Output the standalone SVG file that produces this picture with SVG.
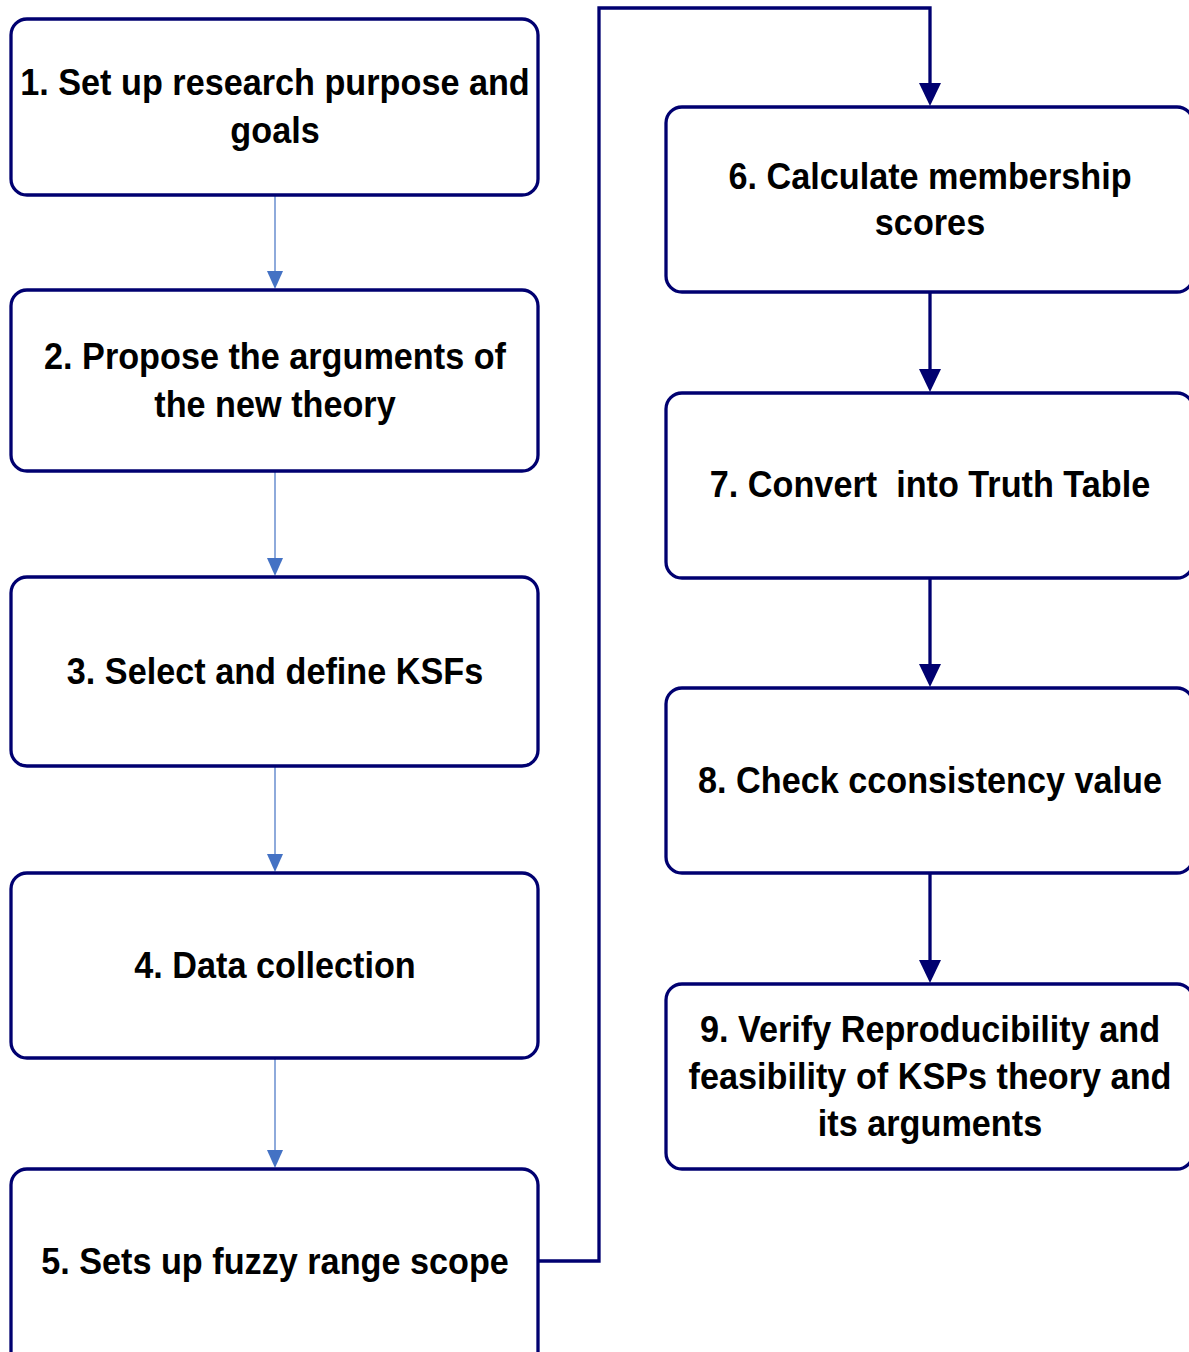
<svg xmlns="http://www.w3.org/2000/svg" width="1189" height="1352" viewBox="0 0 1189 1352">
<style>
.box{fill:#fff;stroke:#000070;stroke-width:3.3}
.t{font-family:"Liberation Sans",Arial,sans-serif;font-weight:bold;font-size:37px;fill:#000;text-anchor:middle}
.lc{fill:none;stroke:#8eaadb;stroke-width:2}
.dc{fill:none;stroke:#000070;stroke-width:3.3}
</style>
<rect width="1189" height="1352" fill="#fff"/>
<g id="connectors">
<path class="lc" d="M275,195 V271"/><path d="M267,271 H283 L275,289 Z" fill="#4472c4"/>
<path class="lc" d="M275,471 V558"/><path d="M267,558 H283 L275,576 Z" fill="#4472c4"/>
<path class="lc" d="M275,766 V854"/><path d="M267,854 H283 L275,872 Z" fill="#4472c4"/>
<path class="lc" d="M275,1058 V1150"/><path d="M267,1150 H283 L275,1168 Z" fill="#4472c4"/>
<path class="dc" d="M538,1261 H599 V8 H930 V84"/><path d="M919,83 H941 L930,106 Z" fill="#000070"/>
<path class="dc" d="M930,292 V370"/><path d="M919,369 H941 L930,392 Z" fill="#000070"/>
<path class="dc" d="M930,578 V665"/><path d="M919,664 H941 L930,687 Z" fill="#000070"/>
<path class="dc" d="M930,873 V961"/><path d="M919,960 H941 L930,983 Z" fill="#000070"/>
</g>
<g id="n1"><rect class="box" x="11" y="19" width="527" height="176" rx="16"/><g transform="translate(275 0) scale(0.925 1)"><text class="t" x="0" y="95">1. Set up research purpose and</text><text class="t" x="0" y="143">goals</text></g></g>
<g id="n2"><rect class="box" x="11" y="290" width="527" height="181" rx="16"/><g transform="translate(275 0) scale(0.925 1)"><text class="t" x="0" y="369">2. Propose the arguments of</text><text class="t" x="0" y="417">the new theory</text></g></g>
<g id="n3"><rect class="box" x="11" y="577" width="527" height="189" rx="16"/><g transform="translate(275 0) scale(0.925 1)"><text class="t" x="0" y="684">3. Select and define KSFs</text></g></g>
<g id="n4"><rect class="box" x="11" y="873" width="527" height="185" rx="16"/><g transform="translate(275 0) scale(0.925 1)"><text class="t" x="0" y="978">4. Data collection</text></g></g>
<g id="n5"><rect class="box" x="11" y="1169" width="527" height="200" rx="16"/><g transform="translate(275 0) scale(0.925 1)"><text class="t" x="0" y="1274">5. Sets up fuzzy range scope</text></g></g>
<g id="n6"><rect class="box" x="666" y="107" width="527" height="185" rx="16"/><g transform="translate(930 0) scale(0.925 1)"><text class="t" x="0" y="189">6. Calculate membership</text><text class="t" x="0" y="235">scores</text></g></g>
<g id="n7"><rect class="box" x="666" y="393" width="527" height="185" rx="16"/><g transform="translate(930 0) scale(0.925 1)"><text class="t" x="0" y="497">7. Convert&#160; into Truth Table</text></g></g>
<g id="n8"><rect class="box" x="666" y="688" width="527" height="185" rx="16"/><g transform="translate(930 0) scale(0.925 1)"><text class="t" x="0" y="793">8. Check cconsistency value</text></g></g>
<g id="n9"><rect class="box" x="666" y="984" width="527" height="185" rx="16"/><g transform="translate(930 0) scale(0.925 1)"><text class="t" x="0" y="1042">9. Verify Reproducibility and</text><text class="t" x="0" y="1089">feasibility of KSPs theory and</text><text class="t" x="0" y="1136">its arguments</text></g></g>
</svg>
